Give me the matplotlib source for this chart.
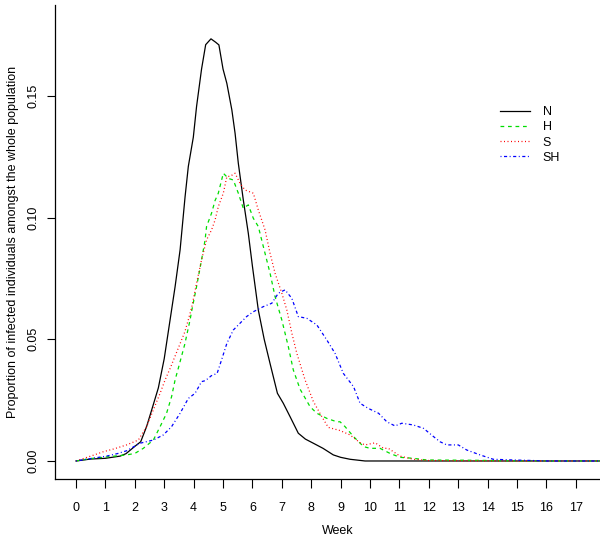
import numpy as np
import matplotlib
matplotlib.use("Agg")
import matplotlib.pyplot as plt

plt.rcParams['font.family'] = ['Liberation Sans', 'DejaVu Sans']

# series (week, proportion infected)
n_week = [0, 0.5, 1.0, 1.5, 1.7, 2.0, 2.2, 2.4, 2.6, 2.8, 3.0, 3.2, 3.37, 3.54, 3.71,
          3.82, 3.99, 4.1, 4.27, 4.41, 4.59, 4.75, 4.86, 5.0, 5.13, 5.3, 5.41, 5.52,
          5.69, 5.86, 6.0, 6.2, 6.4, 6.6, 6.85, 7.05, 7.28, 7.56, 7.8, 8.07, 8.4,
          8.75, 9.0, 9.32, 9.83, 10.5, 12, 14, 16, 17.8]
n_val = [0, 0.0008, 0.0011, 0.002, 0.003, 0.006, 0.0079, 0.0141, 0.022, 0.030,
         0.042, 0.058, 0.0716, 0.0867, 0.1086, 0.121, 0.133, 0.1456, 0.161, 0.171,
         0.1734, 0.172, 0.1709, 0.161, 0.1551, 0.1442, 0.1346, 0.1223, 0.1072,
         0.0935, 0.080, 0.062, 0.050, 0.040, 0.0278, 0.0237, 0.0182, 0.0114, 0.0090,
         0.0073, 0.0052, 0.0025, 0.0015, 0.0007, 0.0, 0.0, 0.0, 0.0, 0.0, 0.0]

h_week = [0, 0.5, 0.93, 1.3, 1.72, 2.0, 2.29, 2.63, 2.86, 3.08, 3.25, 3.37, 3.5,
          3.7, 3.88, 3.94, 4.10, 4.27, 4.39, 4.44, 4.61, 4.73, 4.84, 5.01, 5.18,
          5.35, 5.52, 5.69, 5.86, 6.03, 6.2, 6.37, 6.6, 6.77, 7.0, 7.22, 7.39, 7.62,
          7.96, 8.19, 8.53, 8.87, 8.98, 9.15, 9.44, 9.78, 10.0, 10.34, 10.68, 11.02,
          11.47, 11.93, 13.5, 14.5, 16, 17.8]
h_val = [0, 0.001, 0.0015, 0.002, 0.0025, 0.0031, 0.0052, 0.0086, 0.0141, 0.0196,
         0.0264, 0.0333, 0.039, 0.048, 0.058, 0.062, 0.0716, 0.0826, 0.0908, 0.0963,
         0.1018, 0.107, 0.110, 0.1182, 0.1161, 0.1154, 0.110, 0.1038, 0.1052, 0.0997,
         0.0963, 0.0881, 0.0771, 0.0675, 0.0579, 0.047, 0.0374, 0.0295, 0.0223,
         0.0196, 0.0175, 0.0161, 0.0161, 0.0141, 0.010, 0.0059, 0.0052, 0.0052,
         0.0031, 0.0015, 0.0011, 0.0004, 0.0003, 0.0001, 0.0, 0.0]

s_week = [0, 0.5, 0.93, 1.3, 1.72, 2.12, 2.4, 2.63, 2.86, 3.03, 3.2, 3.5, 3.7,
          3.82, 3.94, 4.10, 4.27, 4.44, 4.61, 4.73, 4.84, 5.01, 5.13, 5.25, 5.41,
          5.58, 5.75, 6.03, 6.2, 6.43, 6.6, 6.77, 7.0, 7.17, 7.34, 7.51, 7.79, 8.07,
          8.36, 8.58, 8.98, 9.32, 9.66, 9.83, 10.11, 10.17, 10.46, 10.62, 11.02,
          11.47, 12.0, 13, 15, 17.8]
s_val = [0, 0.002, 0.0038, 0.005, 0.0066, 0.0086, 0.0141, 0.021, 0.0278, 0.0333,
         0.038, 0.047, 0.053, 0.058, 0.0634, 0.073, 0.0826, 0.0908, 0.0949, 0.099,
         0.1045, 0.110, 0.1168, 0.117, 0.1182, 0.114, 0.1113, 0.110, 0.1031, 0.0949,
         0.0853, 0.0771, 0.0689, 0.062, 0.0525, 0.0442, 0.0333, 0.0245, 0.0182,
         0.0138, 0.0125, 0.0107, 0.0075, 0.0066, 0.0073, 0.0075, 0.0052, 0.0052,
         0.002, 0.0007, 0.0002, 0.0001, 0.0, 0.0]

sh_week = [0, 0.5, 1.04, 1.4, 1.72, 2.18, 2.63, 2.97, 3.25, 3.54, 3.82, 4.05,
           4.27, 4.4, 4.6, 4.8, 4.95, 5.13, 5.35, 5.58, 5.8, 6.03, 6.37, 6.66,
           6.88, 7.11, 7.34, 7.56, 7.85, 8.19, 8.53, 8.81, 9.09, 9.44, 9.66, 9.94,
           10.29, 10.57, 10.85, 11.08, 11.47, 11.82, 12.16, 12.38, 12.61, 13.0,
           13.29, 13.74, 14.19, 14.9, 15.5, 16.0, 17.8]
sh_val = [0, 0.001, 0.002, 0.003, 0.0042, 0.0073, 0.0086, 0.0107, 0.0141, 0.0196,
          0.0257, 0.0278, 0.0326, 0.033, 0.035, 0.036, 0.0415, 0.0483, 0.0538,
          0.0566, 0.0593, 0.0613, 0.0634, 0.0648, 0.0689, 0.0703, 0.0668, 0.0593,
          0.0586, 0.0559, 0.0497, 0.0442, 0.036, 0.0305, 0.0237, 0.0216, 0.0196,
          0.0161, 0.0144, 0.0155, 0.0148, 0.0134, 0.010, 0.0079, 0.0066, 0.0066,
          0.0045, 0.0025, 0.0007, 0.0004, 0.0002, 0.0, 0.0]

week_ticks = list(range(0, 18))
y_ticks = [0.00, 0.05, 0.10, 0.15]
y_labels = ['0.00', '0.05', '0.10', '0.15']

fig = plt.figure(figsize=(6.0, 5.39), dpi=100)
ax = fig.add_axes([55/600, 1 - 479/539, 565/600, 474/539])

ax.plot(n_week, n_val, color='black', lw=0.9, label='N')
ax.plot(h_week, h_val, color='#00dd00', lw=0.9, dashes=(3, 3), label='H')
ax.plot(s_week, s_val, color='red', lw=0.9, dashes=(0.8, 2.0), label='S')
ax.plot(sh_week, sh_val, color='blue', lw=0.9, dashes=(0.8, 2.0, 2.5, 2.0), label='SH')

ax.set_xlim(-0.714, 18.5)
ax.set_ylim(-0.0074, 0.1873)
ax.set_xticks(week_ticks)
ax.set_yticks(y_ticks)
ax.set_yticklabels(y_labels, rotation=90, va='center')
ax.spines['top'].set_visible(False)
ax.spines['right'].set_visible(False)
for s in ['left', 'bottom']:
    ax.spines[s].set_linewidth(0.9)
ax.tick_params(axis='x', length=6.5, width=0.8, pad=10, labelsize=9)
ax.tick_params(axis='y', length=5.5, width=0.8, pad=6, labelsize=9)
ax.set_xlabel('Week', fontsize=9, labelpad=8)
ax.set_ylabel('Proportion of infected individuals amongst the whole population',
              fontsize=9, labelpad=6)

ax.legend(loc='upper left', bbox_to_anchor=(0.768, 0.81), frameon=False,
          fontsize=9, handlelength=2.4, handletextpad=1.0, labelspacing=0.25)

fig.savefig('out.png', dpi=100)
